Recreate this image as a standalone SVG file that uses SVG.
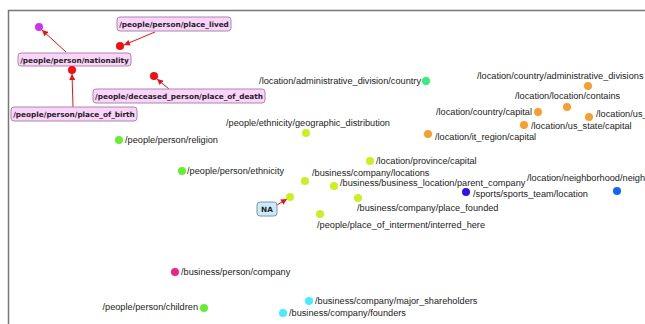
<svg xmlns="http://www.w3.org/2000/svg" width="645" height="324" viewBox="0 0 645 324">
<defs>
<marker id="ah" viewBox="0 0 10 10" refX="10" refY="5" markerWidth="6" markerHeight="6" orient="auto" markerUnits="userSpaceOnUse">
<path d="M0,0 L10,5 L0,10 z" fill="#ee1111"/>
</marker>
<style>
.lbl{font-family:"Liberation Sans",Arial,sans-serif;font-size:9.2px;fill:#222}
.bt{font-family:"DejaVu Sans",Verdana,sans-serif;font-size:7.3px;font-weight:bold;fill:#222;text-anchor:middle}
.pb{fill:#fbd3fb;stroke:#a88aa8;stroke-width:1}
.nb{fill:#cce9f9;stroke:#7898a8;stroke-width:1}
.e{stroke:#ee1111;stroke-width:1;fill:none;marker-end:url(#ah)}
.red{fill:#ee1111}
.org{fill:#f5a030}
.yg{fill:#ccee22}
.grn{fill:#66ee33}
</style>
</defs>
<rect x="0" y="0" width="645" height="324" fill="#fff"/>
<path d="M8.5,324 V10.5 H645" fill="none" stroke="#777" stroke-width="1.5"/>
<g id="connectors">
<line class="e" x1="66" y1="52" x2="42" y2="30"/>
<line class="e" x1="155" y1="32" x2="124" y2="45"/>
<line class="e" x1="73" y1="107" x2="72" y2="74"/>
<line class="e" x1="169" y1="89" x2="157" y2="79"/>
<line class="e" x1="277" y1="205" x2="287" y2="199"/>
</g>
<g id="n_purple"><circle cx="39" cy="27" r="4" fill="#cc33ee"/></g>
<g id="n_place_lived"><rect class="pb" x="117" y="17" width="114" height="14" rx="3"/><text class="bt" x="174" y="27">/people/person/place_lived</text></g>
<g id="n_red1"><circle class="red" cx="120" cy="46" r="4"/></g>
<g id="n_nationality"><rect class="pb" x="18" y="53" width="113" height="13" rx="3"/><text class="bt" x="74.5" y="62.5">/people/person/nationality</text></g>
<g id="n_red2"><circle class="red" cx="72" cy="70" r="4"/></g>
<g id="n_red3"><circle class="red" cx="154" cy="76" r="4"/></g>
<g id="n_place_of_death"><rect class="pb" x="93" y="89" width="172" height="14" rx="3"/><text class="bt" x="179" y="99">/people/deceased_person/place_of_death</text></g>
<g id="n_place_of_birth"><rect class="pb" x="11" y="107" width="126" height="14" rx="3"/><text class="bt" x="74" y="117">/people/person/place_of_birth</text></g>

<g id="n_admin_country"><circle cx="426" cy="81" r="4" fill="#33ee77"/><text class="lbl" x="421" y="84" text-anchor="end">/location/administrative_division/country</text></g>
<g id="n_admin_divs"><circle class="org" cx="588" cy="86" r="4"/><text class="lbl" x="477" y="79">/location/country/administrative_divisions</text></g>
<g id="n_contains"><circle class="org" cx="567" cy="107" r="4"/><text class="lbl" x="515" y="99">/location/location/contains</text></g>
<g id="n_country_capital"><circle class="org" cx="538" cy="112" r="4"/><text class="lbl" x="532" y="115" text-anchor="end">/location/country/capital</text></g>
<g id="n_us"><circle class="org" cx="589" cy="117" r="4"/><text class="lbl" x="596" y="117">/location/us_</text></g>
<g id="n_us_state"><circle class="org" cx="524" cy="125" r="4"/><text class="lbl" x="531" y="129">/location/us_state/capital</text></g>
<g id="n_it_region"><circle class="org" cx="428" cy="134" r="4"/><text class="lbl" x="435" y="140">/location/it_region/capital</text></g>
<g id="n_geo_dist"><circle class="yg" cx="306" cy="133" r="4"/><text class="lbl" x="226" y="126">/people/ethnicity/geographic_distribution</text></g>
<g id="n_religion"><circle class="grn" cx="119" cy="140" r="4"/><text class="lbl" x="125" y="143">/people/person/religion</text></g>
<g id="n_ethnicity"><circle class="grn" cx="182" cy="171" r="4"/><text class="lbl" x="187" y="174">/people/person/ethnicity</text></g>
<g id="n_province"><circle class="yg" cx="370" cy="161" r="4"/><text class="lbl" x="376" y="164">/location/province/capital</text></g>
<g id="n_locations"><circle class="yg" cx="305" cy="181" r="4"/><text class="lbl" x="312" y="176">/business/company/locations</text></g>
<g id="n_parent"><circle class="yg" cx="334" cy="186" r="4"/><text class="lbl" x="340" y="186">/business/business_location/parent_company</text></g>
<g id="n_na_target"><circle class="yg" cx="290" cy="197" r="4"/></g>
<g id="n_na"><rect class="nb" x="257" y="202" width="20" height="14" rx="3"/><text class="bt" x="267" y="212">NA</text></g>
<g id="n_founded"><circle class="yg" cx="358" cy="198" r="4"/><text class="lbl" x="357" y="211">/business/company/place_founded</text></g>
<g id="n_interred"><circle class="yg" cx="320" cy="214" r="4"/><text class="lbl" x="317" y="228">/people/place_of_interment/interred_here</text></g>
<g id="n_sports"><circle cx="466" cy="192" r="4" fill="#3311ee"/><text class="lbl" x="473" y="197">/sports/sports_team/location</text></g>
<g id="n_neigh"><circle cx="617" cy="191" r="4" fill="#1166ff"/><text class="lbl" x="527" y="181">/location/neighborhood/neighborhood_of</text></g>
<g id="n_person_company"><circle cx="175" cy="272" r="4" fill="#ee2288"/><text class="lbl" x="181" y="275">/business/person/company</text></g>
<g id="n_children"><circle class="grn" cx="204" cy="308" r="4"/><text class="lbl" x="198" y="310" text-anchor="end">/people/person/children</text></g>
<g id="n_shareholders"><circle cx="309" cy="301" r="4" fill="#44eeff"/><text class="lbl" x="315" y="304">/business/company/major_shareholders</text></g>
<g id="n_founders"><circle cx="283" cy="313" r="4" fill="#44eeff"/><text class="lbl" x="289" y="316">/business/company/founders</text></g>
</svg>
